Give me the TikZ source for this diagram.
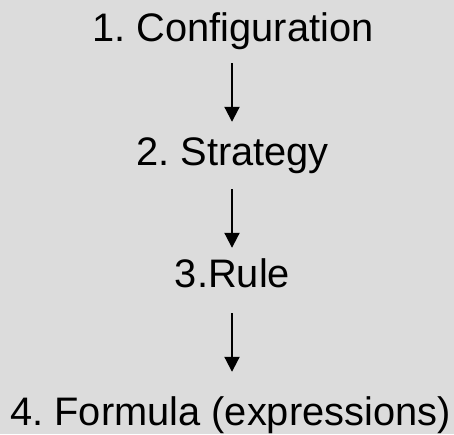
\documentclass[tikz,border=0pt]{standalone}
\usepackage{fontspec}
\setmainfont{Liberation Sans}
\usetikzlibrary{arrows.meta}
\definecolor{bg}{RGB}{220,220,220}
\frenchspacing
\begin{document}
\begin{tikzpicture}[x=1pt,y=1pt,
  lbl/.style={anchor=base, inner sep=0pt, text height=28pt, text depth=9pt, font=\fontsize{39.8}{44}\selectfont\frenchspacing},
  arr/.style={line width=2pt, -{Triangle[width=15pt,length=15pt]}}]
\fill[bg] (0,0) rectangle (454,-434);
\useasboundingbox (0,0) rectangle (454,-434);
\node[lbl] (t1) at (233,-41) {1. Configuration};
\node[lbl] (t2) at (232.5,-165) {2. Strategy};
\node[lbl] (t3) at (232.5,-287) {3.Rule};
\node[lbl] (t4) at (230.5,-425) {4. Formula (expressions)};
\coordinate (ax) at (232,0);
\draw[arr, shorten <=13pt, shorten >=15pt] (t1.south -| ax) -- (t2.north -| ax);
\draw[arr, shorten <=15pt, shorten >=11pt] (t2.south -| ax) -- (t3.north -| ax);
\draw[arr, shorten <=17pt, shorten >=25pt] (t3.south -| ax) -- (t4.north -| ax);
\end{tikzpicture}
\end{document}
